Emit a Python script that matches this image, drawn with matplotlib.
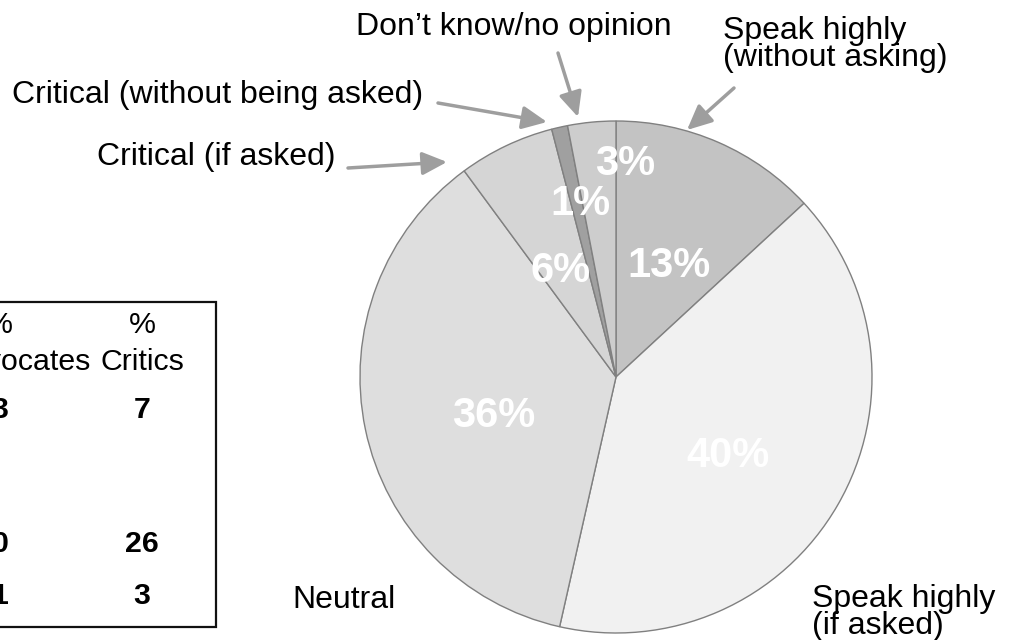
import matplotlib
matplotlib.use("Agg")
import matplotlib.pyplot as plt
import numpy as np
from matplotlib.patches import Rectangle

# ---- data ----
categories = ["Speak highly\n(without asking)", "Speak highly\n(if asked)", "Neutral",
              "Critical (if asked)", "Critical (without being asked)", "Don\u2019t know/no opinion"]
shares = [13, 40, 36, 6, 1, 3]
slice_colors = ["#c3c3c3", "#f1f1f1", "#dedede", "#d5d5d5", "#a0a0a0", "#cdcdcd"]

table_headers = ["Advocates", "Critics"]
advocates_visible = ["3", "0", "1"]
critics = ["7", "26", "3"]

# ---- style ----
label_dist = [0.48, 0.535, 0.50, 0.466, 0.69, 0.833]
label_shift = [-2, -5, 6, 2, -1, -8]

plt.rcParams['font.family'] = ['Liberation Sans', 'DejaVu Sans']
W, H = 1012, 640
fig = plt.figure(figsize=(W / 100, H / 100), dpi=100)
fig.patch.set_facecolor("white")


def fp(x, y):
    return (x / W, 1 - y / H)


cx, cy, R = 616, 377, 256
ax = fig.add_axes([(cx - R) / W, (H - cy - R) / H, 2 * R / W, 2 * R / H])
wedges, _ = ax.pie(shares, colors=slice_colors, startangle=90, counterclock=False,
                   radius=1, wedgeprops=dict(edgecolor="#808080", linewidth=1.0))
ax.set_xlim(-1, 1)
ax.set_ylim(-1, 1)
ax.axis("off")

for w, v, d, s in zip(wedges, shares, label_dist, label_shift):
    mid = np.deg2rad((w.theta1 + w.theta2) / 2 + s)
    ax.text(d * np.cos(mid), d * np.sin(mid), f"{v}%", color="white", fontsize=30,
            fontweight="bold", ha="center", va="center")

# ---- category labels ----
fs = 23.0
fig.text(*fp(514, 35), categories[5], fontsize=fs, ha="center", va="baseline")
fig.text(*fp(723, 39), "Speak highly", fontsize=fs, ha="left", va="baseline")
fig.text(*fp(723, 66), "(without asking)", fontsize=fs, ha="left", va="baseline")
fig.text(*fp(12, 103), categories[4], fontsize=fs, ha="left", va="baseline")
fig.text(*fp(97, 165), categories[3], fontsize=fs, ha="left", va="baseline")
fig.text(*fp(344, 608), categories[2], fontsize=fs, ha="center", va="baseline")
fig.text(*fp(812, 607), "Speak highly", fontsize=fs, ha="left", va="baseline")
fig.text(*fp(812, 634), "(if asked)", fontsize=fs, ha="left", va="baseline")

# ---- arrows ----
arrows = [((558, 53), (578, 117)), ((734, 88), (687, 130)),
          ((438, 103), (547, 122)), ((348, 168), (447, 162))]
for start, tip in arrows:
    fig.add_artist(matplotlib.patches.FancyArrowPatch(
        fp(*start), fp(*tip), transform=fig.transFigure,
        arrowstyle="-|>,head_length=0.75,head_width=0.35", mutation_scale=20,
        color="#9e9e9e", lw=2.5, shrinkA=0, shrinkB=0))

# ---- table ----
fig.add_artist(Rectangle(fp(-10, 627), 226 / W, 325 / H, transform=fig.transFigure,
                         fill=False, edgecolor="#111111", linewidth=1.6))
tfs = 21.8
fig.text(*fp(-1, 333), "%", fontsize=tfs, ha="center", va="baseline")
fig.text(*fp(91, 370), table_headers[0], fontsize=tfs, ha="right", va="baseline")
fig.text(*fp(142, 333), "%", fontsize=tfs, ha="center", va="baseline")
fig.text(*fp(142, 370), table_headers[1], fontsize=tfs, ha="center", va="baseline")
row_y = [418, 552, 604]
for y, a, c in zip(row_y, advocates_visible, critics):
    fig.text(*fp(0, y), a, fontsize=tfs, fontweight="bold", ha="center", va="baseline")
    fig.text(*fp(142, y), c, fontsize=tfs, fontweight="bold", ha="center", va="baseline")

fig.savefig("out.png", dpi=100)
